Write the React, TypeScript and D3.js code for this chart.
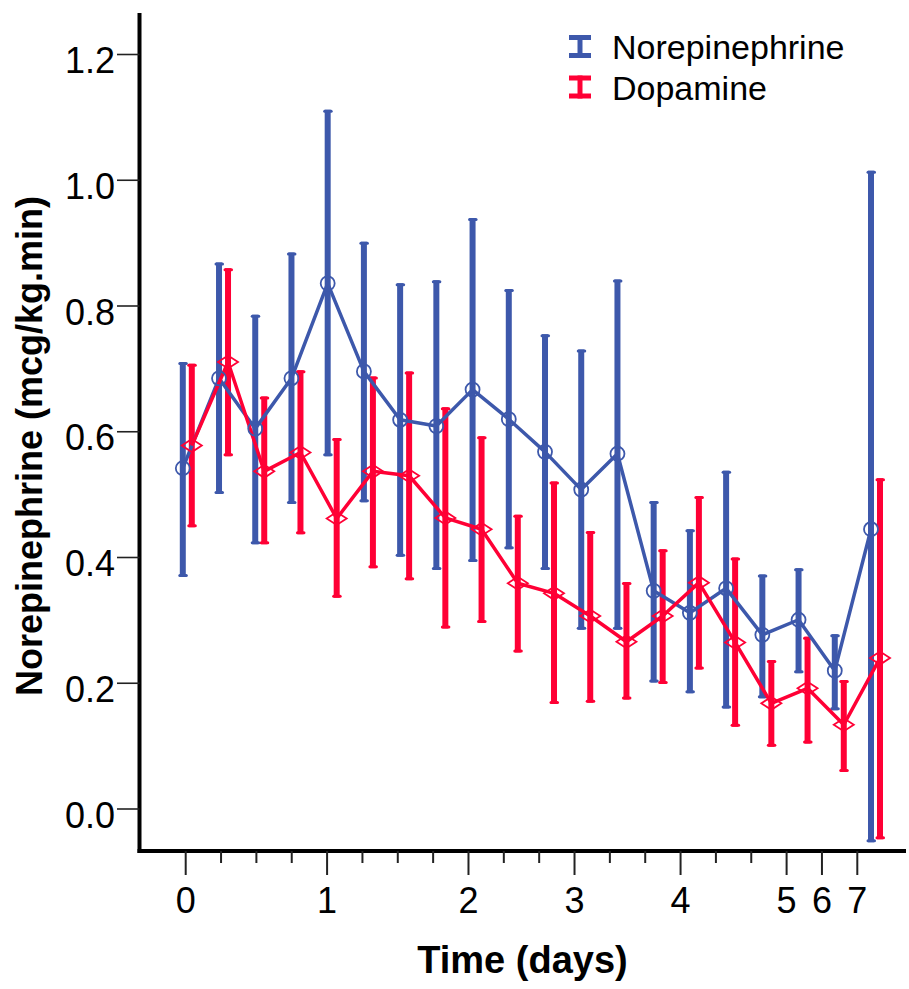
import React from "react";
import * as d3 from "d3";

const timeIndex = d3.range(20);
const tickLabels = ["0", "", "", "", "1", "", "", "", "2", "", "", "3", "", "", "4", "", "", "5", "6", "7"];
const yTicks = [0, 0.2, 0.4, 0.6, 0.8, 1.0, 1.2];

const seriesNames = ["Norepinephrine", "Dopamine"];
const seriesColors = ["#3D58AB", "#FF0035"];

const noreMean = [0.542, 0.685, 0.605, 0.685, 0.836, 0.696, 0.619, 0.609, 0.667, 0.620, 0.568, 0.508, 0.565, 0.347, 0.312, 0.351, 0.277, 0.301, 0.220, 0.445];
const noreUpper = [0.711, 0.869, 0.786, 0.885, 1.112, 0.902, 0.836, 0.841, 0.940, 0.827, 0.755, 0.731, 0.842, 0.490, 0.445, 0.538, 0.373, 0.383, 0.278, 1.015];
const noreLower = [0.369, 0.501, 0.421, 0.485, 0.561, 0.488, 0.401, 0.380, 0.393, 0.413, 0.380, 0.285, 0.285, 0.201, 0.184, 0.160, 0.176, 0.216, 0.157, -0.053];

const dopaMean = [0.578, 0.711, 0.537, 0.567, 0.462, 0.537, 0.530, 0.463, 0.445, 0.359, 0.343, 0.307, 0.266, 0.307, 0.360, 0.265, 0.168, 0.192, 0.134, 0.240];
const dopaUpper = [0.708, 0.860, 0.656, 0.698, 0.590, 0.688, 0.696, 0.639, 0.593, 0.468, 0.521, 0.442, 0.361, 0.413, 0.498, 0.400, 0.237, 0.274, 0.205, 0.526];
const dopaLower = [0.448, 0.561, 0.421, 0.437, 0.336, 0.383, 0.364, 0.287, 0.296, 0.249, 0.167, 0.169, 0.174, 0.199, 0.222, 0.131, 0.099, 0.104, 0.059, -0.048];

const FONT = "'Liberation Sans', Arial, Helvetica, sans-serif";

export default function App() {
  const W = 909;
  const H = 989;
  const axisX = 139.5;
  const axisY = 851;
  const axisTop = 13;
  const axisRight = 906;

  const y = d3.scaleLinear().domain([0, 1.2]).range([809, 54.5]);
  const xData = d3.scalePoint<number>().domain(timeIndex).range([187.3, 875.5]);
  const xTick = d3.scalePoint<number>().domain(timeIndex).range([185.7, 857.3]);
  const dodge = 4.5;

  const series = [
    { name: seriesNames[0], color: seriesColors[0], mean: noreMean, up: noreUpper, lo: noreLower, off: -dodge, marker: "circle" },
    { name: seriesNames[1], color: seriesColors[1], mean: dopaMean, up: dopaUpper, lo: dopaLower, off: dodge, marker: "diamond" },
  ];

  const line = (s: typeof series[0]) =>
    d3.line<number>()
      .x((i) => (xData(i) as number) + s.off)
      .y((i) => y(s.mean[i]))(timeIndex) as string;

  const fmt = d3.format(".1f");

  return (
    <svg width={W} height={H} style={{ position: "absolute", left: 0, top: 0, background: "#fff" }} fontFamily={FONT}>
      <rect x={0} y={0} width={W} height={H} fill="#fff" />
      {/* error bars */}
      {series.map((s) => (
        <g key={s.name + "eb"}>
          {timeIndex.map((i) => {
            const cx = (xData(i) as number) + s.off;
            const y1 = y(s.up[i]);
            const y2 = y(s.lo[i]);
            return (
              <g key={i}>
                <line x1={cx} x2={cx} y1={y1} y2={y2} stroke={s.color} strokeWidth={6} />
                <line x1={cx - 3} x2={cx + 3.5} y1={y1 + 1.5} y2={y1 + 1.5} stroke={s.color} strokeWidth={3} strokeLinecap="round" />
                <line x1={cx - 3} x2={cx + 3.5} y1={y2 - 1.5} y2={y2 - 1.5} stroke={s.color} strokeWidth={3} strokeLinecap="round" />
              </g>
            );
          })}
        </g>
      ))}
      {/* lines */}
      {series.map((s) => (
        <path key={s.name + "ln"} d={line(s)} fill="none" stroke={s.color} strokeWidth={3.5} strokeLinejoin="round" />
      ))}
      {/* markers */}
      {series.map((s) => (
        <g key={s.name + "mk"}>
          {timeIndex.map((i) => {
            const cx = (xData(i) as number) + s.off;
            const cy = y(s.mean[i]);
            return s.marker === "circle" ? (
              <circle key={i} cx={cx} cy={cy} r={7} fill="none" stroke={s.color} strokeWidth={1.8} />
            ) : (
              <path key={i} d={`M${cx - 10},${cy}L${cx},${cy - 6.5}L${cx + 10},${cy}L${cx},${cy + 6.5}Z`} fill="none" stroke={s.color} strokeWidth={1.8} />
            );
          })}
        </g>
      ))}
      {/* y axis */}
      <line x1={axisX} x2={axisX} y1={axisTop} y2={axisY + 2} stroke="#000" strokeWidth={4} />
      {yTicks.map((t) => (
        <g key={t}>
          <line x1={117} x2={axisX} y1={y(t)} y2={y(t)} stroke="#222" strokeWidth={1.6} />
          <text x={115} y={y(t) + 18.5} textAnchor="end" fontSize={36} fill="#000">{fmt(t)}</text>
        </g>
      ))}
      {/* x axis */}
      <line x1={axisX - 2} x2={axisRight} y1={axisY} y2={axisY} stroke="#000" strokeWidth={4} />
      {timeIndex.map((i) => {
        const tx = xTick(i) as number;
        const major = tickLabels[i] !== "";
        return (
          <g key={i}>
            <line x1={tx} x2={tx} y1={axisY} y2={axisY + (major ? 24 : 12)} stroke="#222" strokeWidth={2} />
            {major && (
              <text x={tx} y={913} textAnchor="middle" fontSize={36} fill="#000">{tickLabels[i]}</text>
            )}
          </g>
        );
      })}
      {/* titles */}
      <text x={522.5} y={973} textAnchor="middle" fontSize={38} fontWeight="bold" fill="#000">Time (days)</text>
      <text transform={`translate(42,446) rotate(-90)`} textAnchor="middle" fontSize={36} fontWeight="bold" fill="#000">Norepinephrine (mcg/kg.min)</text>
      {/* legend */}
      {series.map((s, k) => {
        const top = 35 + k * 40.5;
        const bot = top + 23;
        const cx = 580;
        return (
          <g key={s.name + "lg"}>
            <line x1={cx} x2={cx} y1={top} y2={bot} stroke={s.color} strokeWidth={5} />
            <line x1={cx - 11} x2={cx + 11} y1={top + 2.5} y2={top + 2.5} stroke={s.color} strokeWidth={5} />
            <line x1={cx - 11} x2={cx + 11} y1={bot - 2.5} y2={bot - 2.5} stroke={s.color} strokeWidth={5} />
            <text x={612} y={59 + k * 41} fontSize={34} fill="#000">{s.name}</text>
          </g>
        );
      })}
    </svg>
  );
}
